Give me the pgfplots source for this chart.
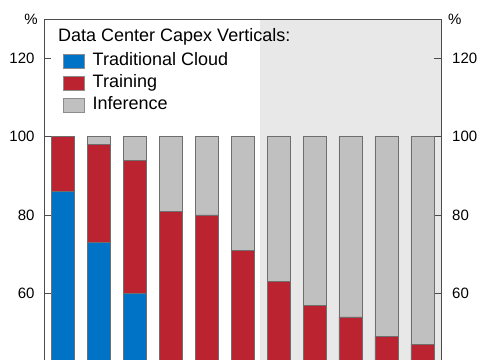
\documentclass[border=0pt]{standalone}
\usepackage{pgfplots}
\pgfplotsset{compat=1.18}
\usetikzlibrary{calc}
\usepackage{fontspec}
\setmainfont{Liberation Sans}
\definecolor{cloud}{RGB}{0,115,198}
\definecolor{train}{RGB}{186,35,47}
\definecolor{infer}{RGB}{192,192,192}
\definecolor{bgshade}{RGB}{232,232,232}
\definecolor{edge}{RGB}{110,110,110}
\begin{document}
\begin{tikzpicture}
\begin{axis}[
  scale only axis,
  width=397pt, height=341pt,
  xmin=-0.514, xmax=10.514,
  ymin=43, ymax=130,
  ybar stacked, bar width=23pt,
  axis line style={draw=none},
  axis background/.style={path picture={
    \fill[bgshade] ($(path picture bounding box.south west)!0.54534!(path picture bounding box.south east)$) rectangle (path picture bounding box.north east);}},
  xtick=\empty,
  ytick={60,80,100,120},
  tick style={draw=black!70, line width=0.6pt},
  major tick length=7pt,
  tick align=inside,
  ytick pos=both,
  yticklabel pos=left,
  /pgf/number format/assume math mode=true,
  yticklabel style={font=\fontsize{15}{17}\selectfont, xshift=-6pt},
  legend style={at={(rel axis cs:0.0479,0.9018)}, anchor=north west, draw=none, fill=none,
    font=\fontsize{18}{20}\selectfont, row sep=5pt, column sep=8pt, inner sep=0pt,
    nodes={inner sep=0pt, text height=13pt, text depth=4pt},
    legend cell align=left},
  legend image code/.code={\draw[#1, draw=black!45] (0pt,-7pt) rectangle (21pt,7pt);},
  clip=true,
]
\addplot[fill=cloud, draw=edge, line width=0.5pt] coordinates {(0,86) (1,73) (2,60) (3,0) (4,0) (5,0) (6,0) (7,0) (8,0) (9,0) (10,0)};
\addplot[fill=train, draw=edge, line width=0.5pt] coordinates {(0,14) (1,25) (2,34) (3,81) (4,80) (5,71) (6,63) (7,57) (8,54) (9,49) (10,47)};
\addplot[fill=infer, draw=edge, line width=0.5pt] coordinates {(0,0) (1,2) (2,6) (3,19) (4,20) (5,29) (6,37) (7,43) (8,46) (9,51) (10,53)};
\legend{Traditional Cloud, Training, Inference}
\coordinate (bl) at (rel axis cs:0,0);
\coordinate (tr) at (rel axis cs:1,1);
\coordinate (tl) at (rel axis cs:0,1);
\coordinate (br) at (rel axis cs:1,0);
\coordinate (r60) at (axis cs:10.514,60);
\coordinate (r80) at (axis cs:10.514,80);
\coordinate (r100) at (axis cs:10.514,100);
\coordinate (r120) at (axis cs:10.514,120);
\end{axis}
\draw[black!70, line width=0.8pt] (bl) -- (tl) -- (tr) -- (br);
\node[anchor=base west, font=\fontsize{18}{20}\selectfont, inner sep=0pt] at ([xshift=14pt,yshift=-22.4pt]tl) {Data Center Capex Verticals:};
\node[anchor=east, font=\fontsize{15}{17}\selectfont, inner sep=0pt] at ([xshift=-6pt]tl) {\%};
\node[anchor=west, font=\fontsize{15}{17}\selectfont, inner sep=0pt] at ([xshift=7pt]tr) {\%};
\foreach \v in {60,80,100,120}{
  \node[anchor=west, font=\fontsize{15}{17}\selectfont, inner sep=0pt] at ([xshift=11pt]r\v) {\v};
}
\pgfresetboundingbox
\path[use as bounding box] ([xshift=-44pt]bl) rectangle ([xshift=44pt,yshift=19pt]tr);
\end{tikzpicture}
\end{document}
